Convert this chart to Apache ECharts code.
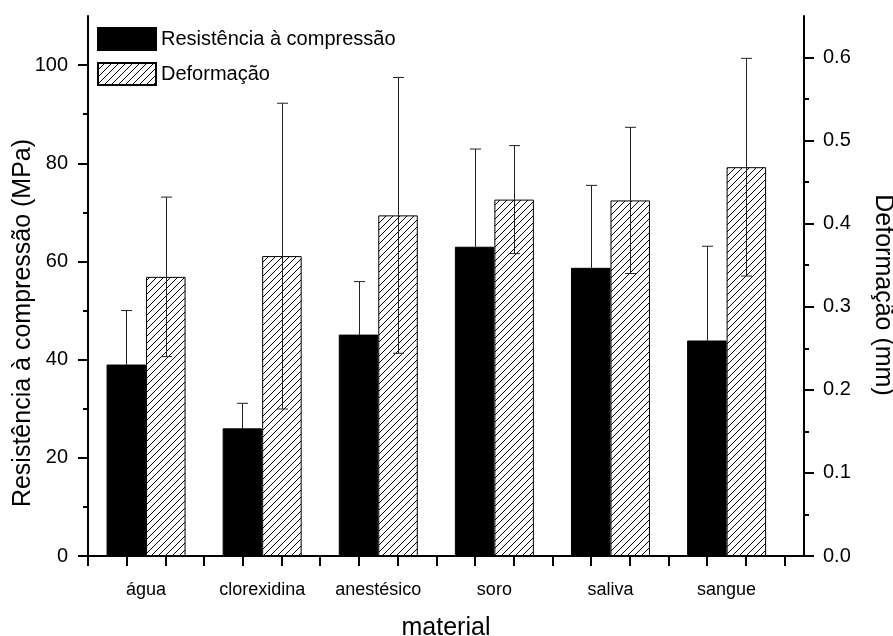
<!DOCTYPE html>
<html>
<head>
<meta charset="utf-8">
<script src="https://cdn.jsdelivr.net/npm/echarts@6/dist/echarts.min.js"></script>
<style>html,body{margin:0;padding:0;background:#fff}#c{width:893px;height:636px}</style>
</head>
<body>
<div id="c"></div>
<script>
// ---- data ----
const categories = ['água', 'clorexidina', 'anestésico', 'soro', 'saliva', 'sangue'];
const resistencia = [39.0, 26.0, 45.1, 63.0, 58.7, 43.9];
const resistenciaErr = [11.0, 5.1, 10.8, 19.9, 16.8, 19.2];
const deformacao = [0.336, 0.361, 0.410, 0.429, 0.428, 0.468];
const deformacaoErr = [0.096, 0.184, 0.166, 0.065, 0.088, 0.131];
const leftTicks = [0, 20, 40, 60, 80, 100];
const leftMinorTicks = [10, 30, 50, 70, 90];
const rightTicks = [0, 0.1, 0.2, 0.3, 0.4, 0.5, 0.6];
const rightMinorTicks = [0.05, 0.15, 0.25, 0.35, 0.45, 0.55];
const xTicks = [0,1,2,3,4,5,6,7,8,9,10,11,12,13,14,15,16,17,18];

// hatch pattern
const tile = document.createElement('canvas');
tile.width = 7; tile.height = 7;
const g = tile.getContext('2d');
g.fillStyle = '#fff'; g.fillRect(0, 0, 7, 7);
g.strokeStyle = '#000'; g.lineWidth = 1;
g.beginPath();
g.moveTo(-1, 8); g.lineTo(8, -1);
g.moveTo(-1, 1); g.lineTo(1, -1);
g.moveTo(6, 8); g.lineTo(8, 6);
g.stroke();
const hatch = { image: tile, repeat: 'repeat' };

const FONT = 'Liberation Sans, Arial, sans-serif';
const BW = 39.5;

function errRender(offset, lowerVisible) {
  return function (params, api) {
    const i = api.value(0), v = api.value(1), e = api.value(2);
    const c = api.coord([i, v]);
    const x = Math.round(c[0] + offset) + 0.5;
    const yt = api.coord([i, v + e])[1];
    const yb = api.coord([i, v - e])[1];
    const st = { stroke: '#222', lineWidth: 1 };
    const children = [
      { type: 'line', shape: { x1: x, y1: yt, x2: x, y2: c[1] }, style: st },
      { type: 'line', shape: { x1: x - 5.5, y1: yt, x2: x + 5.5, y2: yt }, style: st }
    ];
    const stLow = lowerVisible ? st : { stroke: '#000', lineWidth: 1 };
    children.push(
      { type: 'line', shape: { x1: x, y1: c[1], x2: x, y2: yb }, style: stLow },
      { type: 'line', shape: { x1: x - 5.5, y1: yb, x2: x + 5.5, y2: yb }, style: stLow }
    );
    return { type: 'group', children };
  };
}

const axisLineStyle = { color: '#000', width: 2 };
const chart = echarts.init(document.getElementById('c'), null, { renderer: 'canvas' });
chart.setOption({
  animation: false,
  backgroundColor: '#fff',
  textStyle: { fontFamily: FONT, color: '#000' },
  grid: [
    { left: 88, right: 89, top: 16, bottom: 80, outerBoundsMode: 'none', containLabel: false },
    { left: 88, width: 716 * 18 / 18.5, top: 16, bottom: 80, outerBoundsMode: 'none', containLabel: false }
  ],
  legend: {
    data: ['Resistência à compressão', 'Deformação'],
    orient: 'vertical', left: 97, top: 27, padding: 0,
    itemWidth: 58, itemHeight: 22, itemGap: 11,
    icon: 'rect',
    textStyle: { fontSize: 20, fontFamily: FONT, color: '#000' }
  },
  xAxis: [
    {
      gridIndex: 0, type: 'value', min: 0, max: 18.5, position: 'bottom',
      axisLine: { lineStyle: axisLineStyle },
      axisTick: { length: 10, lineStyle: axisLineStyle, customValues: xTicks },
      axisLabel: { show: false }, splitLine: { show: false },
      name: 'material', nameLocation: 'middle', nameGap: 60, nameMoveOverlap: false,
      nameTextStyle: { fontSize: 25, fontFamily: FONT, color: '#000' }
    },
    {
      gridIndex: 1, type: 'category', data: categories, position: 'bottom',
      axisLine: { show: false }, axisTick: { show: false },
      axisLabel: { fontSize: 18, margin: 25, color: '#000', fontFamily: FONT }
    },
    {
      gridIndex: 0, type: 'value', min: 0, max: 18.5, position: 'top',
      axisLine: { lineStyle: axisLineStyle }, axisTick: { show: false },
      axisLabel: { show: false }, splitLine: { show: false }
    }
  ],
  yAxis: [
    {
      gridIndex: 0, type: 'value', min: 0, max: 110, position: 'left',
      axisLine: { show: true, onZero: false, lineStyle: axisLineStyle },
      axisTick: { show: true, length: 10, lineStyle: axisLineStyle, customValues: leftTicks },
      axisLabel: { customValues: leftTicks, fontSize: 20, margin: 20, color: '#000', fontFamily: FONT },
      splitLine: { show: false },
      name: 'Resistência à compressão (MPa)', nameLocation: 'middle', nameGap: 52, nameRotate: 90,
      nameMoveOverlap: false,
      nameTextStyle: { fontSize: 25, fontFamily: FONT, color: '#000', padding: [0, 74, 0, 0] }
    },
    {
      gridIndex: 0, type: 'value', min: 0, max: 0.65, position: 'right',
      axisLine: { show: true, onZero: false, lineStyle: axisLineStyle },
      axisTick: { show: true, length: 10, lineStyle: axisLineStyle, customValues: rightTicks },
      axisLabel: { customValues: rightTicks, fontSize: 20, margin: 19, color: '#000', fontFamily: FONT,
        formatter: v => Number(v).toFixed(1) },
      splitLine: { show: false },
      name: 'Deformação (mm)', nameLocation: 'middle', nameGap: 66, nameRotate: -90,
      nameMoveOverlap: false,
      nameTextStyle: { fontSize: 25, fontFamily: FONT, color: '#000', padding: [0, 0, 0, 18] }
    },
    {
      gridIndex: 0, type: 'value', min: 0, max: 110, position: 'left',
      axisLine: { show: false, onZero: false },
      axisTick: { show: true, inside: false, length: 5, lineStyle: axisLineStyle, customValues: leftMinorTicks },
      axisLabel: { show: false }, splitLine: { show: false }
    },
    {
      gridIndex: 0, type: 'value', min: 0, max: 0.65, position: 'right',
      axisLine: { show: false, onZero: false },
      axisTick: { show: true, inside: false, length: 5, lineStyle: axisLineStyle, customValues: rightMinorTicks },
      axisLabel: { show: false }, splitLine: { show: false }
    },
    { gridIndex: 1, type: 'value', min: 0, max: 110, show: false, splitLine: { show: false } },
    { gridIndex: 1, type: 'value', min: 0, max: 0.65, show: false, splitLine: { show: false } }
  ],
  series: [
    {
      name: 'Resistência à compressão', type: 'bar', xAxisIndex: 1, yAxisIndex: 4,
      data: resistencia, barWidth: BW, barGap: '0%',
      itemStyle: { color: '#000', borderColor: '#000', borderWidth: 1 }
    },
    {
      name: 'Deformação', type: 'bar', xAxisIndex: 1, yAxisIndex: 5,
      data: deformacao, barWidth: BW, barGap: '0%',
      itemStyle: { color: hatch, borderColor: '#000', borderWidth: 1 }
    },
    {
      type: 'custom', xAxisIndex: 1, yAxisIndex: 4, z: 5,
      renderItem: errRender(-BW / 2, false),
      encode: { x: 0, y: 1 },
      data: categories.map((c, i) => [i, resistencia[i], resistenciaErr[i]])
    },
    {
      type: 'custom', xAxisIndex: 1, yAxisIndex: 5, z: 5,
      renderItem: errRender(BW / 2, true),
      encode: { x: 0, y: 1 },
      data: categories.map((c, i) => [i, deformacao[i], deformacaoErr[i]])
    }
  ]
});
</script>
</body>
</html>
